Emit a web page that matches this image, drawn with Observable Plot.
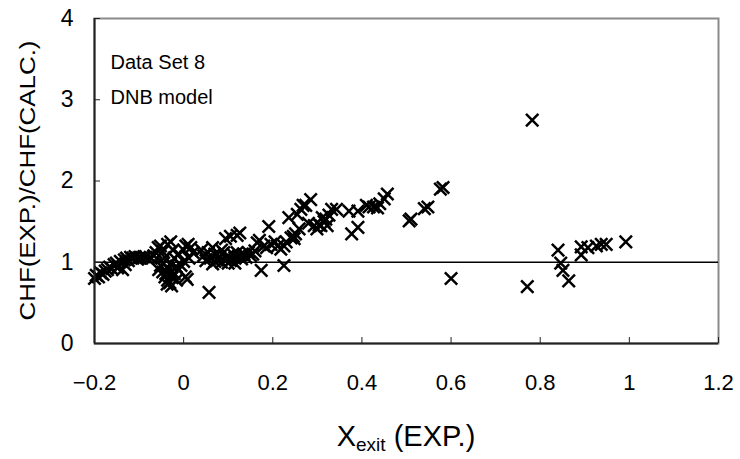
<!DOCTYPE html>
<html><head><meta charset="utf-8">
<script src="https://cdn.jsdelivr.net/npm/d3@7"></script>
<script src="https://cdn.jsdelivr.net/npm/@observablehq/plot@0.6"></script>
<style>body{margin:0;background:#fff} svg{display:block}</style>
</head><body><div id="chart"></div>
<script>
const xExit = [
 -0.200,-0.196,-0.191,-0.186,-0.181,-0.176,-0.171,-0.166,-0.161,-0.156,-0.151,-0.146,-0.142,-0.137,-0.133,-0.128,-0.124,-0.119,-0.114,-0.109,-0.104,-0.099,-0.094,-0.089,-0.084,-0.079,-0.073,-0.148,-0.131,-0.067,
 -0.062,-0.057,-0.052,-0.047,-0.042,-0.036,-0.029,-0.024,-0.052,-0.047,-0.042,-0.036,-0.031,-0.026,-0.021,-0.016,-0.011,-0.006,0.000,-0.056,-0.045,-0.035,-0.027,-0.017,-0.021,-0.011,0.004,0.008,-0.037,0.000,0.005,0.010,0.016,0.021,0.012,-0.027,-0.040,-0.030,
 0.040,0.045,0.050,0.055,0.060,0.065,0.070,0.075,0.080,0.085,0.090,0.095,0.100,0.105,0.110,0.115,0.120,0.125,0.130,0.135,0.140,0.145,0.150,0.155,0.057,0.094,0.105,0.120,0.126,0.115,0.085,0.065,0.070,0.100,
 0.160,0.165,0.170,0.174,0.180,0.186,0.191,0.196,0.205,0.211,0.218,0.225,0.225,0.230,0.236,0.241,0.246,0.248,0.251,0.255,0.259,0.263,0.268,0.274,0.280,0.285,0.293,0.299,0.304,0.308,0.311,0.315,0.319,0.322,0.326,0.332,0.343,0.371,0.377,0.391,0.391,0.410,0.416,0.426,0.435,0.440,0.450,0.457,0.506,0.510,0.540,0.548,0.576,0.582,0.600,
 0.771,0.782,0.840,0.846,0.851,0.864,0.892,0.892,0.907,0.926,0.937,0.948,0.992
];
const ratio = [
 0.80,0.84,0.82,0.87,0.85,0.89,0.91,0.94,0.92,0.97,0.99,0.95,1.01,0.91,1.03,1.05,1.02,1.06,1.05,1.07,1.04,1.06,1.05,1.07,1.06,1.04,1.05,0.93,0.97,1.08,
 1.12,1.18,1.20,1.13,1.06,1.22,1.25,1.15,0.96,0.88,0.82,0.78,0.75,0.81,0.86,0.78,0.91,0.96,1.01,0.91,0.99,0.92,0.88,0.95,1.05,1.10,0.82,0.79,0.73,1.15,1.20,1.22,1.18,1.12,1.05,0.71,0.86,0.98,
 1.15,1.08,1.02,1.12,1.05,0.98,1.10,1.03,1.07,1.00,1.12,1.05,1.08,1.02,1.10,1.05,1.12,1.08,1.04,1.10,1.06,1.12,1.08,1.10,0.63,1.29,1.32,1.33,1.36,0.99,1.15,1.18,1.01,0.99,
 1.14,1.24,1.27,0.90,1.20,1.18,1.44,1.22,1.25,1.20,1.16,1.20,0.96,1.25,1.55,1.30,1.32,1.29,1.35,1.59,1.41,1.65,1.70,1.70,1.48,1.77,1.45,1.41,1.46,1.45,1.55,1.50,1.53,1.45,1.58,1.65,1.65,1.63,1.35,1.43,1.63,1.70,1.68,1.68,1.67,1.72,1.78,1.84,1.51,1.53,1.66,1.68,1.90,1.92,0.80,
 0.70,2.75,1.15,0.99,0.90,0.77,1.09,1.19,1.18,1.20,1.22,1.22,1.25
];
const xTicks = [-0.2, 0, 0.2, 0.4, 0.6, 0.8, 1, 1.2];
const yTicks = [0, 1, 2, 3, 4];
const refLine = [1];
const notes = ["Data Set 8", "DNB model"];
const yTitle = "CHF(EXP.)/CHF(CALC.)";
const xTitleMain = "X", xTitleSub = "exit", xTitleTail = " (EXP.)";

const points = xExit.map((x, i) => ({x, y: ratio[i]}));
const W = 740, H = 459, mL = 94, mR = 22, mT = 18, mB = 116;
const fw = W - mL - mR, fh = H - mT - mB;
const font = "'Liberation Sans', Arial, sans-serif";
const fmt = d => d < 0 ? "\u2212" + Math.abs(d) : String(d);

const plot = Plot.plot({
  width: W, height: H, marginLeft: mL, marginRight: mR, marginTop: mT, marginBottom: mB,
  style: {fontFamily: font, background: "#fff", color: "#000"},
  x: {domain: [-0.2, 1.2]},
  y: {domain: [0, 4]},
  marks: [
    Plot.frame({stroke: "#8a8a8a", strokeWidth: 2}),
    Plot.ruleY(refLine, {stroke: "#000", strokeWidth: 1.3}),
    Plot.dot(points, {x: "x", y: "y", symbol: "times", r: 5.7, stroke: "#000", strokeWidth: 2.5}),
    Plot.ruleX([-0.2], {stroke: "#222", strokeWidth: 2}),
    Plot.ruleY([0], {stroke: "#222", strokeWidth: 2}),
    Plot.tickX(xTicks, {x: d => d, insetTop: fh - 6, stroke: "#222", strokeWidth: 1}),
    Plot.tickY(yTicks, {y: d => d, insetRight: fw - 6, stroke: "#222", strokeWidth: 1}),
    Plot.axisX(xTicks, {tickSize: 0, tickPadding: 31, fontSize: 22, tickFormat: fmt, label: null}),
    Plot.axisY(yTicks, {tickSize: 0, tickPadding: 21, fontSize: 23, tickFormat: fmt, label: null}),
    Plot.text([notes.join("\n")], {frameAnchor: "top-left", dx: 16, dy: 25, lineHeight: 1.78, fontSize: 20, textAnchor: "start", lineAnchor: "top"})
  ]
});
document.getElementById("chart").appendChild(plot);

const svg = d3.select(plot);
// y-axis title
const ys = plot.scale("y");
const cy = (ys.apply(0) + ys.apply(4)) / 2;
svg.append("text")
  .attr("transform", `translate(27,${cy}) rotate(-90)`)
  .attr("text-anchor", "middle").attr("dy", "0.35em")
  .attr("font-family", font).attr("font-size", 22).attr("fill", "#000")
  .attr("textLength", 280).attr("lengthAdjust", "spacingAndGlyphs")
  .text(yTitle);

// x-axis title with subscript
const xs = plot.scale("x");
const cx = (xs.apply(-0.2) + xs.apply(1.2)) / 2;
const t = svg.append("text")
  .attr("x", cx).attr("y", 446).attr("text-anchor", "middle")
  .attr("font-family", font).attr("font-size", 29).attr("fill", "#000");
t.append("tspan").text(xTitleMain);
t.append("tspan").attr("font-size", 19).attr("dy", 5).text(xTitleSub);
t.append("tspan").attr("dy", -5).text(xTitleTail);
</script>
</body></html>
